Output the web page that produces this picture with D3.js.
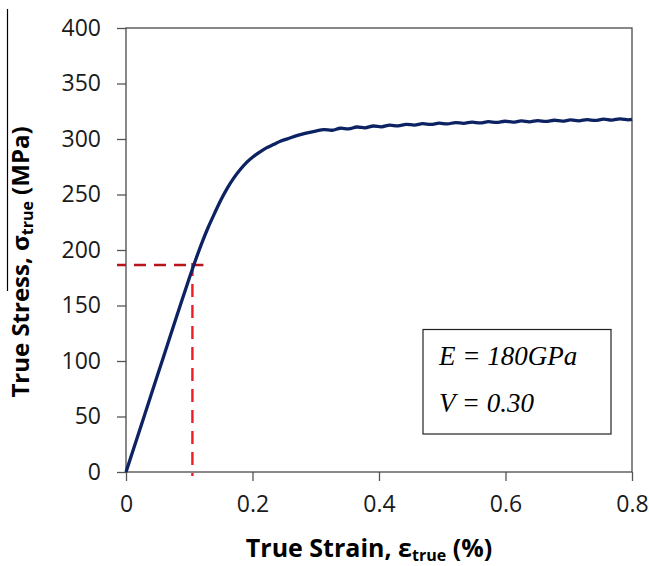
<!DOCTYPE html>
<html>
<head>
<meta charset="utf-8">
<script src="https://cdn.jsdelivr.net/npm/d3@7"></script>
<style>
  body { margin: 0; background: #fff; }
  svg { display: block; }
  .tick text { font-family: "Open Sans", sans-serif; font-size: 23px; fill: #1a1a1a; }
  .title { font-family: "Open Sans", sans-serif; font-weight: bold; font-size: 24px; fill: #000; }
  .note { font-family: "Liberation Serif", "Times New Roman", serif; font-style: italic; font-size: 27px; fill: #000; }
</style>
</head>
<body>
<svg id="chart" width="649" height="566"></svg>
<script>
// tick values
const xTicks = [0, 0.2, 0.4, 0.6, 0.8];
const yTicks = [0, 50, 100, 150, 200, 250, 300, 350, 400];

// true strain (%) vs true stress (MPa)
const strain = [0, 0.02, 0.04, 0.06, 0.08, 0.1, 0.11, 0.12, 0.13, 0.14, 0.15, 0.16,
  0.17, 0.18, 0.19, 0.201, 0.212, 0.222, 0.233, 0.244, 0.257, 0.27, 0.283, 0.3,
  0.313, 0.326, 0.339, 0.352, 0.365, 0.378, 0.391, 0.404, 0.417, 0.43, 0.443, 0.456,
  0.469, 0.482, 0.495, 0.508, 0.521, 0.534, 0.547, 0.56, 0.573, 0.586, 0.599, 0.612,
  0.625, 0.638, 0.651, 0.664, 0.677, 0.69, 0.703, 0.716, 0.729, 0.742, 0.755, 0.768,
  0.781, 0.794, 0.8];
const stress = [0, 35, 70, 105, 140, 174.5, 191, 206.5, 220.5, 233, 245, 255.5,
  264.5, 272, 278.5, 284, 288.5, 292, 295, 298, 300.5, 303, 305, 307.2,
  308.4, 307.9, 309.7, 309.1, 310.8, 310.1, 311.7, 311, 312.5, 311.8, 313.2, 312.5,
  313.8, 313.1, 314.3, 313.6, 314.8, 314.1, 315.2, 314.5, 315.6, 314.9, 316, 315.2,
  316.3, 315.5, 316.6, 315.8, 316.9, 316.1, 317.2, 316.4, 317.5, 316.7, 317.9, 317,
  318.2, 317.3, 317.7];

// yield marker (dashed guide lines)
const yieldStrain = 0.105;
const yieldStress = 186.5;

const notes = ["E = 180GPa", "V = 0.30"];

const margin = { top: 28, right: 17, bottom: 94, left: 126 };
const svg = d3.select('#chart');
const W = +svg.attr('width'), H = +svg.attr('height');
const w = W - margin.left - margin.right;
const h = H - margin.top - margin.bottom;

const x = d3.scaleLinear().domain([0, 0.8]).range([0, w]);
const y = d3.scaleLinear().domain([0, 400]).range([h, 0]);

const g = svg.append('g').attr('transform', `translate(${margin.left},${margin.top})`);

// stray crop line at the far left of the figure
svg.append('line')
  .attr('x1', 7.5).attr('x2', 7.5).attr('y1', 9).attr('y2', 291)
  .attr('stroke', '#000').attr('stroke-width', 1.2);

const yAxis = g.append('g')
  .call(d3.axisLeft(y).tickValues(yTicks).tickSize(9).tickPadding(16).tickFormat(d3.format('d')));
const xAxis = g.append('g')
  .attr('transform', `translate(0,${h})`)
  .call(d3.axisBottom(x).tickValues(xTicks).tickSize(9).tickPadding(15).tickFormat(d => d === 0 ? '0' : d3.format('.1f')(d)));

[yAxis, xAxis].forEach(a => {
  a.select('.domain').remove();
  a.selectAll('.tick line').attr('stroke', '#555').attr('stroke-width', 1.3);
});

// plot frame
g.append('rect')
  .attr('width', w).attr('height', h)
  .attr('fill', 'none').attr('stroke', '#4a4a4a').attr('stroke-width', 1.3);

// dashed guides
g.append('line')
  .attr('x1', -9).attr('x2', x(yieldStrain) + 11)
  .attr('y1', y(yieldStress)).attr('y2', y(yieldStress))
  .attr('stroke', '#b8141c').attr('stroke-width', 2.4)
  .attr('stroke-dasharray', '12,8').attr('stroke-dashoffset', 3);
g.append('line')
  .attr('x1', x(yieldStrain)).attr('x2', x(yieldStrain))
  .attr('y1', y(yieldStress) - 2).attr('y2', h + 4)
  .attr('stroke', '#ee1c24').attr('stroke-width', 2.4)
  .attr('stroke-dasharray', '13,8');

// stress-strain curve
const pts = strain.map((s, i) => [s, stress[i]]);
g.append('path')
  .datum(pts)
  .attr('fill', 'none')
  .attr('stroke', '#0c2262')
  .attr('stroke-width', 3.3)
  .attr('stroke-linejoin', 'round')
  .attr('d', d3.line().x(d => x(d[0])).y(d => y(d[1])).curve(d3.curveCatmullRom));

// annotation box
svg.append('rect')
  .attr('x', 423).attr('y', 329.5).attr('width', 188).attr('height', 104.5)
  .attr('fill', '#fff').attr('stroke', '#222').attr('stroke-width', 1.2);
svg.selectAll('text.note')
  .data(notes)
  .join('text')
  .attr('class', 'note')
  .attr('x', 439)
  .attr('y', (d, i) => 365 + i * 47)
  .text(d => d);

// axis titles
const xt = svg.append('text')
  .attr('class', 'title')
  .attr('x', 369).attr('y', 557)
  .style('font-size', '25px')
  .attr('text-anchor', 'middle');
xt.append('tspan').text('True Strain, ε');
xt.append('tspan').style('font-size', '16px').attr('dy', 4).text('true');
xt.append('tspan').attr('dy', -4).text(' (%)');

const yt = svg.append('text')
  .attr('class', 'title')
  .attr('transform', 'translate(29,262) rotate(-90)')
  .attr('text-anchor', 'middle');
yt.append('tspan').text('True Stress, σ');
yt.append('tspan').style('font-size', '16px').attr('dy', 4).text('true');
yt.append('tspan').attr('dy', -4).text(' (MPa)');
</script>
</body>
</html>
